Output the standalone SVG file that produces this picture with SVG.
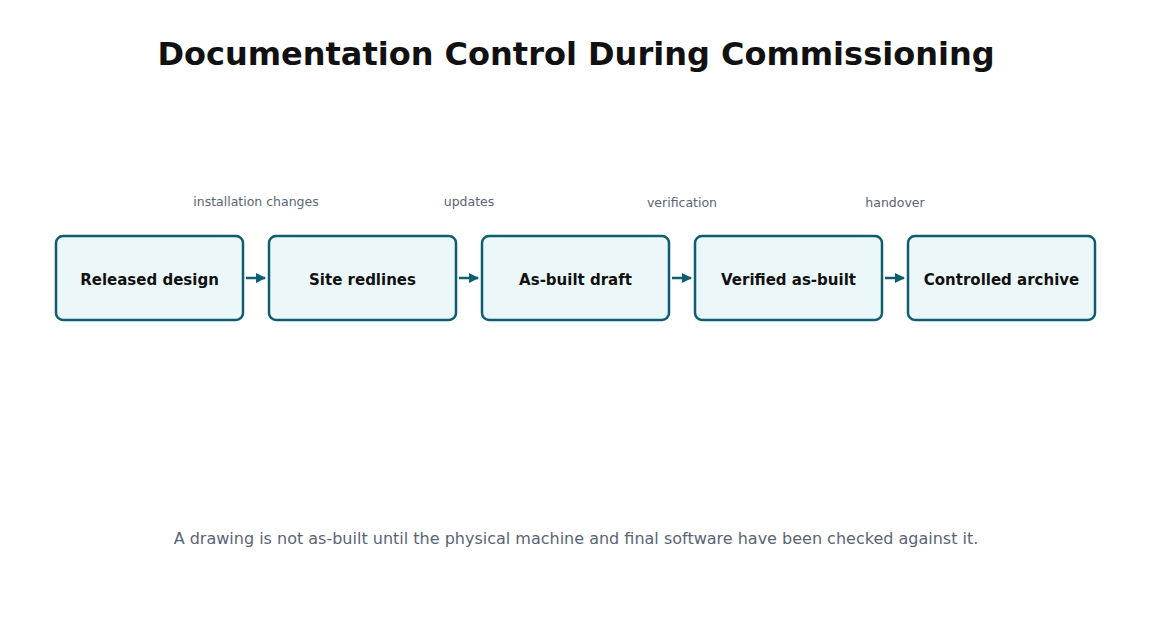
<svg xmlns="http://www.w3.org/2000/svg" width="1152" height="618" viewBox="0 0 1152 618">
<defs>
<style>
.n rect{fill:#ecf7f9;stroke:#0e5e6f;stroke-width:2.5}
.n text{font:bold 15px "DejaVu Sans",sans-serif;fill:#111;text-anchor:middle}
.l{font:12.5px "DejaVu Sans",sans-serif;fill:#5a6474;text-anchor:middle}
.c line{stroke:#0e5e6f;stroke-width:2.5}
</style>
<marker id="a" viewBox="0 0 10 10" refX="9" refY="5" markerWidth="4" markerHeight="4" orient="auto"><path d="M0,0L10,5L0,10z" fill="#0e5e6f"/></marker>
</defs>
<rect width="1152" height="618" fill="#fff"/>
<text x="576" y="65" style="font:bold 32px 'DejaVu Sans',sans-serif;fill:#111" text-anchor="middle">Documentation Control During Commissioning</text>
<g id="n1" class="n"><rect x="56" y="236" width="187" height="84" rx="7"/><text x="149.5" y="285">Released design</text></g>
<g id="n2" class="n"><rect x="269" y="236" width="187" height="84" rx="7"/><text x="362.5" y="285">Site redlines</text></g>
<g id="n3" class="n"><rect x="482" y="236" width="187" height="84" rx="7"/><text x="575.5" y="285">As-built draft</text></g>
<g id="n4" class="n"><rect x="695" y="236" width="187" height="84" rx="7"/><text x="788.5" y="285">Verified as-built</text></g>
<g id="n5" class="n"><rect x="908" y="236" width="187" height="84" rx="7"/><text x="1001.5" y="285">Controlled archive</text></g>
<g id="connectors" class="c">
<line x1="246" y1="278" x2="265" y2="278" marker-end="url(#a)"/>
<line x1="459" y1="278" x2="478" y2="278" marker-end="url(#a)"/>
<line x1="672" y1="278" x2="691" y2="278" marker-end="url(#a)"/>
<line x1="885" y1="278" x2="904" y2="278" marker-end="url(#a)"/>
<text class="l" x="256" y="206">installation changes</text>
<text class="l" x="469" y="206">updates</text>
<text class="l" x="682" y="207">verification</text>
<text class="l" x="895" y="207">handover</text>
</g>
<text x="576" y="544" style="font:16px 'DejaVu Sans',sans-serif;fill:#5a6474" text-anchor="middle">A drawing is not as-built until the physical machine and final software have been checked against it.</text>
</svg>
